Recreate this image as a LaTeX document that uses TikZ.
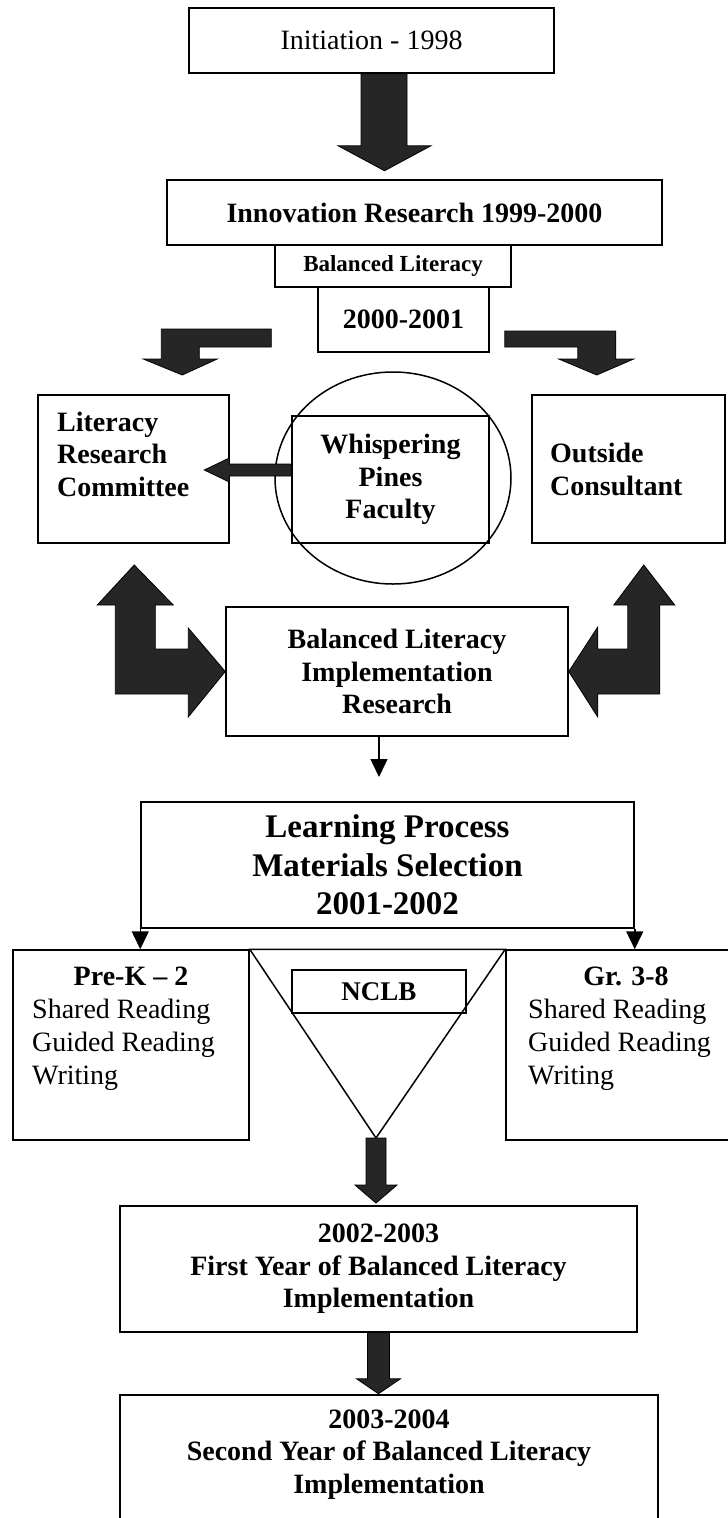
\documentclass[tikz,border=0pt]{standalone}
\usepackage{fontspec}
\setmainfont{Liberation Serif}
\usetikzlibrary{arrows.meta,shapes.geometric}
\tikzset{
  box/.style={rectangle, draw, line width=1.5pt, inner sep=0pt, align=center},
  bigText/.style={font=\fontsize{28}{32.5}\selectfont\bfseries},
  plainText/.style={font=\fontsize{28}{33}\selectfont},
  blockArrow/.style={fill=black!85, draw=black, line width=0.8pt},
  thinArrow/.style={line width=1.5pt, -{Triangle[width=17pt,length=18pt]}}
}

\begin{document}
\begin{tikzpicture}[x=1pt, y=-1pt]
  \useasboundingbox (0,0) rectangle (728,1518);
  % years on top
  \node [box, minimum width=365pt, minimum height=65pt, plainText] (init) at (371.5,40.5) {Initiation - 1998};
  \node [box, minimum width=495pt, minimum height=65pt, bigText] (innov) at (414.5,212.5) {Innovation Research 1999-2000};
  \node [box, minimum width=236pt, minimum height=42pt, font=\fontsize{23}{27}\selectfont\bfseries] (balLit) at (393,266) {Balanced Literacy};
  \node [box, minimum width=171pt, minimum height=65pt, bigText] (year0) at (403.5,319.5) {2000-2001};

  % faculty and the two groups
  \node [ellipse, draw, line width=1.5pt, minimum width=236pt, minimum height=212pt, inner sep=0pt] (ring) at (393,478) {};
  \node [box, minimum width=197pt, minimum height=127pt, bigText] (faculty) at (390.5,479.5) {Whispering\\Pines\\Faculty};
  \node [box, minimum width=191pt, minimum height=148pt] (litCom) at (133.5,469) {};
  \node [bigText, align=left, anchor=base west, inner sep=0pt] (litComTxt) at (57,496) {Literacy\\Research\\Committee};
  \node [box, minimum width=193pt, minimum height=148pt] (outCon) at (628.5,469) {};
  \node [bigText, align=left, anchor=base west, inner sep=0pt] (outConTxt) at (550,495) {Outside\\Consultant};
  \node [box, minimum width=342pt, minimum height=129pt, bigText] (blImpl) at (397,671.5) {Balanced Literacy\\Implementation\\Research};
  \coordinate (gap) at (379,777);

  % selection
  \node [box, minimum width=493pt, minimum height=126pt, font=\fontsize{33}{38.5}\selectfont\bfseries] (learn) at (387.5,865) {Learning Process\\Materials Selection\\2001-2002};
  \node [box, minimum width=236pt, minimum height=190pt] (preK) at (131,1045) {};
  \node [bigText, anchor=base, inner sep=0pt] (preKHead) at (131,985) {Pre-K -- 2};
  \node [plainText, align=left, anchor=base west, inner sep=0pt] (preKTxt) at (32,1084) {Shared Reading\\Guided Reading\\Writing};
  \node [box, minimum width=234pt, minimum height=190pt] (gr) at (623,1045) {};
  \node [bigText, anchor=base, inner sep=0pt] (grHead) at (626,985) {Gr. 3-8};
  \node [plainText, align=left, anchor=base west, inner sep=0pt] (grTxt) at (528,1084) {Shared Reading\\Guided Reading\\Writing};
  \coordinate (apex) at (376,1138);
  \draw [line width=1.5pt, line join=miter] (preK.north east) -- (apex) -- (gr.north west) -- cycle;
  \node [box, minimum width=174pt, minimum height=43pt, font=\fontsize{27}{31}\selectfont\bfseries] (nclb) at (379,991.5) {NCLB};

  % implementation years
  \node [box, minimum width=517pt, minimum height=126pt, bigText] (year1) at (378.5,1269) {2002-2003\\First Year of Balanced Literacy\\Implementation};
  \node [box, minimum width=538pt, minimum height=165pt] (year2) at (389,1477.5) {};
  \node [bigText, align=center, anchor=base, inner sep=0pt] (year2Txt) at (389,1493) {2003-2004\\Second Year of Balanced Literacy\\Implementation};

  % block arrows
  \filldraw [blockArrow] ([xshift=-10.5pt]init.south) -- ++(0,72) -- ++(-23,0) -- ++(46.5,25) -- ++(46.5,-25) -- ++(-24,0) -- ++(0,-72) -- cycle;
  \filldraw [blockArrow] ([shift={(-46,9.5)}]year0.west) -- ++(-110,0) -- ++(0,30) -- ++(-18,0) -- ++(39,16) -- ++(35,-16) -- ++(-18,0) -- ++(0,-12) -- ++(72,0) -- cycle;
  \filldraw [blockArrow] ([shift={(15,11.5)}]year0.east) -- ++(111,0) -- ++(0,28) -- ++(18,0) -- ++(-37,16) -- ++(-38,-16) -- ++(19,0) -- ++(0,-12) -- ++(-73,0) -- cycle;
  \filldraw [blockArrow] ([shift={(0,-15.5)}]faculty.west) -- ++(-62,0) -- ++(0,-6) -- ++(-25,12) -- ++(25,12) -- ++(0,-6) -- ++(62,0) -- cycle;
  \filldraw [blockArrow] (blImpl.west) -- ++(-37,-43.5) -- ++(0,21) -- ++(-33,0) -- ++(0,-44) -- ++(18,0) -- ++(-39,-40) -- ++(-37,40) -- ++(18,0) -- ++(0,89) -- ++(73,0) -- ++(0,23) -- cycle;
  \filldraw [blockArrow] (blImpl.east) -- ++(29,-44.5) -- ++(0,22) -- ++(30,0) -- ++(0,-44) -- ++(-14,0) -- ++(30,-40) -- ++(31,40) -- ++(-15,0) -- ++(0,89) -- ++(-62,0) -- ++(0,23) -- cycle;
  \filldraw [blockArrow] ([xshift=-10pt]apex) -- ++(0,47) -- ++(-11,0) -- ++(21,18) -- ++(21,-18) -- ++(-11,0) -- ++(0,-47) -- cycle;
  \filldraw [blockArrow] ([xshift=-11pt]year1.south) -- ++(0,46) -- ++(-11,0) -- ++(22,15) -- ++(22,-15) -- ++(-11,0) -- ++(0,-46) -- cycle;

  % thin arrows
  \draw [thinArrow] (blImpl.south -| gap) -- (gap);
  \draw [thinArrow] (learn.south west) -- (preK.north -| learn.south west);
  \draw [thinArrow] (learn.south east) -- (gr.north -| learn.south east);
\end{tikzpicture}
\end{document}
